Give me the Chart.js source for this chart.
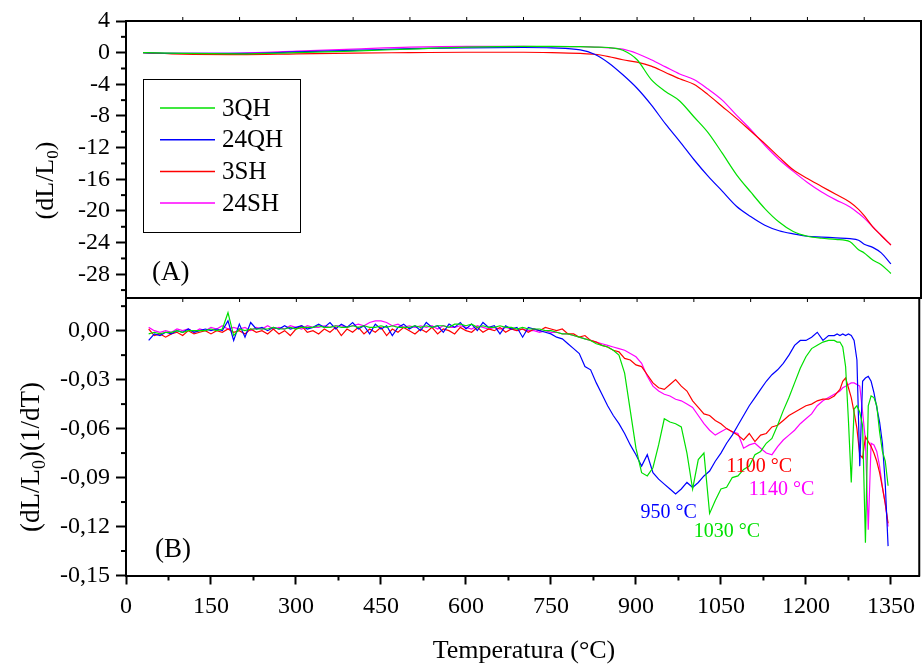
<!DOCTYPE html>
<html>
<head>
<meta charset="utf-8">
<script src="https://cdn.jsdelivr.net/npm/chart.js@4.4.1/dist/chart.umd.min.js"></script>
<style>
  html, body { margin: 0; padding: 0; background: #fff; }
  #wrap { position: relative; width: 923px; height: 667px; }
  #wrap canvas { position: absolute; left: 0; top: 0; }
</style>
</head>
<body>
<div id="wrap">
  <canvas id="chartA" width="923" height="667"></canvas>
  <canvas id="chartB" width="923" height="667"></canvas>
</div>
<script>
Chart.defaults.font.family = "'Liberation Serif', 'Times New Roman', serif";
Chart.defaults.color = '#000';

const seriesNames = ['3QH', '24QH', '3SH', '24SH'];
const seriesColors = ['#00e000', '#0000ff', '#ff0000', '#ff00ff'];

// axis ticks
const ticksX = [0, 150, 300, 450, 600, 750, 900, 1050, 1200, 1350];
const ticksA = [4, 0, -4, -8, -12, -16, -20, -24, -28];
const ticksB = [0, -0.03, -0.06, -0.09, -0.12, -0.15];

// panel (A): dL/L0 vs temperature
const tempA = [30, 100, 200, 300, 400, 500, 600, 700, 750, 800, 825, 850, 875, 900, 925, 950, 975, 1000,
  1025, 1050, 1075, 1100, 1125, 1150, 1175, 1200, 1225, 1250, 1275, 1290, 1300, 1315, 1330, 1347];
const dl3QH = [0, -0.1, -0.15, 0.0, 0.2, 0.45, 0.7, 0.8, 0.8, 0.75, 0.7, 0.65, 0.3, -0.9, -3.4, -4.9, -6.1, -8.1,
  -10.1, -12.7, -15.4, -17.6, -19.7, -21.4, -22.6, -23.2, -23.45, -23.6, -23.9, -24.9, -25.3, -26.2, -26.8, -27.9];
const dl24QH = [0, -0.1, -0.1, 0.1, 0.3, 0.5, 0.6, 0.65, 0.6, 0.35, -0.2, -1.3, -2.8, -4.5, -6.6, -9.0, -11.2, -13.5,
  -15.6, -17.5, -19.4, -20.7, -21.8, -22.5, -22.9, -23.2, -23.3, -23.4, -23.5, -23.7, -24.2, -24.6, -25.3, -26.7];
const dl3SH = [0, -0.2, -0.25, -0.15, -0.05, 0.0, 0.05, 0.05, 0.0, -0.1, -0.2, -0.5, -0.9, -1.2, -1.7, -2.5, -3.3, -4.0,
  -5.3, -6.8, -8.3, -9.9, -11.5, -13.2, -14.8, -15.9, -16.9, -17.9, -18.9, -19.8, -20.6, -22.0, -23.1, -24.3];
const dl24SH = [0, -0.1, -0.05, 0.2, 0.45, 0.7, 0.8, 0.8, 0.75, 0.75, 0.7, 0.6, 0.45, -0.1, -0.9, -1.8, -2.7, -3.4,
  -4.6, -6.0, -7.9, -9.7, -11.7, -13.5, -15.0, -16.4, -17.6, -18.6, -19.5, -20.3, -20.9, -22.0, -23.1, -24.3];

// panel (B): derivative vs temperature
const tempB = [
  40, 50, 60, 70, 80, 90, 100, 110, 120, 130,
  140, 150, 160, 170, 180, 190, 200, 210, 220, 230,
  240, 250, 260, 270, 280, 290, 300, 310, 320, 330,
  340, 350, 360, 370, 380, 390, 400, 410, 420, 430,
  440, 450, 460, 470, 480, 490, 500, 510, 520, 530,
  540, 550, 560, 570, 580, 590, 600, 610, 620, 630,
  640, 650, 660, 670, 680, 690, 700, 710, 720, 730,
  740, 750,
  760, 770, 780, 790, 800, 810, 820, 830, 840, 850,
  860, 870, 880, 890, 900, 910, 920, 930, 940, 950,
  960, 970, 980, 990, 1000, 1010, 1020, 1030, 1040, 1050,
  1060, 1070, 1080, 1090, 1100, 1110, 1120, 1130, 1140, 1150,
  1160, 1170, 1180, 1190, 1200, 1210, 1220, 1230, 1240, 1250,
  1255, 1260, 1265, 1270, 1275, 1280, 1285, 1290, 1295, 1300,
  1305, 1310, 1315, 1320, 1325, 1330, 1335, 1340, 1345];
const dd3QH = [
  -0.002, -0.001, -0.002, -0.001, -0.001, 0.000, -0.001, 0.000, 0.000, 0.000,
  0.000, 0.001, 0.000, 0.001, 0.011, -0.003, 0.001, 0.000, 0.001, 0.001,
  0.001, 0.001, 0.002, 0.001, 0.001, 0.002, 0.001, 0.002, 0.002, 0.002,
  0.003, 0.002, 0.002, 0.003, 0.002, 0.002, 0.003, 0.002, 0.003, 0.002,
  0.002, 0.003, 0.002, 0.003, 0.002, 0.002, 0.002, 0.003, 0.002, 0.003,
  0.002, 0.003, 0.003, 0.002, 0.004, 0.004, 0.003, 0.004, 0.002, 0.003,
  0.002, 0.002, 0.003, 0.002, 0.002, 0.001, 0.002, 0.001, 0.001, 0.001,
  0.000, 0.000,
  -0.001, -0.002, -0.002, -0.003, -0.004, -0.005, -0.006, -0.008, -0.009, -0.010,
  -0.012, -0.015, -0.026, -0.049, -0.072, -0.087, -0.089, -0.084, -0.070, -0.054,
  -0.056, -0.057, -0.059, -0.075, -0.097, -0.079, -0.075, -0.112, -0.104, -0.097,
  -0.096, -0.090, -0.089, -0.085, -0.083, -0.076, -0.074, -0.069, -0.066, -0.058,
  -0.049, -0.041, -0.032, -0.023, -0.016, -0.011, -0.009, -0.007, -0.006, -0.006,
  -0.007, -0.007, -0.010, -0.022, -0.055, -0.093, -0.048, -0.046, -0.050, -0.058,
  -0.130, -0.046, -0.040, -0.041, -0.046, -0.062, -0.074, -0.080, -0.095];
const dd24QH = [
  -0.006, -0.002, -0.003, -0.001, -0.002, 0.000, -0.001, 0.001, -0.001, 0.000,
  0.001, 0.000, 0.001, 0.000, 0.006, -0.006, 0.004, -0.004, 0.005, 0.001,
  0.002, 0.000, 0.002, 0.001, 0.003, 0.001, 0.002, 0.003, 0.001, 0.002,
  0.004, 0.002, 0.005, 0.001, 0.004, 0.002, 0.005, 0.001, 0.003, -0.002,
  0.004, 0.001, 0.003, -0.003, 0.002, 0.004, 0.001, 0.003, 0.000, 0.005,
  0.002, 0.003, -0.001, 0.004, 0.002, 0.005, 0.001, 0.004, 0.000, 0.005,
  0.002, 0.003, -0.002, 0.003, 0.001, 0.002, -0.004, 0.002, 0.001, 0.000,
  -0.001, -0.002,
  -0.004, -0.005, -0.008, -0.011, -0.014, -0.022, -0.024, -0.032, -0.039, -0.046,
  -0.052, -0.057, -0.063, -0.070, -0.076, -0.083, -0.076, -0.087, -0.091, -0.094,
  -0.097, -0.100, -0.097, -0.093, -0.096, -0.093, -0.089, -0.086, -0.080, -0.075,
  -0.069, -0.064, -0.058, -0.052, -0.046, -0.041, -0.036, -0.031, -0.027, -0.024,
  -0.020, -0.015, -0.009, -0.006, -0.006, -0.004, -0.001, -0.006, -0.003, -0.003,
  -0.002, -0.003, -0.002, -0.003, -0.002, -0.003, -0.006, -0.018, -0.083, -0.031,
  -0.029, -0.028, -0.031, -0.038, -0.047, -0.056, -0.069, -0.094, -0.132];
const dd3SH = [
  0.001, -0.003, -0.002, -0.004, -0.002, -0.001, -0.003, 0.000, -0.002, -0.001,
  0.000, -0.002, 0.000, -0.001, 0.001, -0.001, 0.000, -0.002, 0.001, -0.001,
  0.000, -0.002, 0.001, -0.002, 0.000, -0.003, 0.001, 0.003, -0.001, 0.000,
  -0.002, 0.001, -0.001, 0.002, -0.003, 0.001, -0.001, 0.002, -0.002, 0.001,
  -0.001, 0.002, -0.003, 0.001, -0.001, 0.002, 0.000, -0.002, 0.001, -0.001,
  0.002, -0.002, 0.001, 0.000, -0.002, 0.002, 0.000, -0.001, 0.002, -0.001,
  0.001, 0.000, 0.002, -0.001, 0.001, 0.000, 0.001, -0.001, 0.001, 0.000,
  0.002, 0.001,
  0.000, 0.001, -0.002, -0.002, -0.004, -0.003, -0.006, -0.007, -0.009, -0.010,
  -0.012, -0.013, -0.017, -0.018, -0.021, -0.022, -0.027, -0.032, -0.035, -0.036,
  -0.033, -0.030, -0.034, -0.037, -0.043, -0.047, -0.051, -0.052, -0.055, -0.057,
  -0.060, -0.062, -0.064, -0.067, -0.063, -0.068, -0.064, -0.063, -0.059, -0.058,
  -0.055, -0.052, -0.050, -0.048, -0.046, -0.045, -0.043, -0.042, -0.042, -0.040,
  -0.038, -0.036, -0.031, -0.029, -0.035, -0.041, -0.050, -0.060, -0.076, -0.078,
  -0.065, -0.068, -0.071, -0.075, -0.080, -0.087, -0.096, -0.106, -0.118];
const dd24SH = [
  0.002, 0.000, -0.001, 0.000, -0.001, 0.001, 0.000, 0.001, -0.001, 0.001,
  0.000, 0.002, 0.001, 0.003, 0.001, 0.002, 0.001, 0.002, 0.000, 0.002,
  0.001, 0.003, 0.001, 0.002, 0.001, 0.003, 0.002, 0.001, 0.003, 0.002,
  0.002, 0.003, 0.002, 0.003, 0.003, 0.002, 0.003, 0.004, 0.003, 0.005,
  0.006, 0.006, 0.005, 0.003, 0.004, 0.002, 0.003, 0.002, 0.003, 0.002,
  0.003, 0.001, 0.003, 0.002, 0.002, 0.003, 0.002, 0.001, 0.003, 0.002,
  0.001, 0.002, 0.001, 0.002, 0.001, 0.000, 0.001, 0.000, 0.000, -0.001,
  0.000, -0.001,
  -0.001, -0.002, -0.002, -0.003, -0.004, -0.005, -0.006, -0.007, -0.008, -0.009,
  -0.010, -0.011, -0.012, -0.014, -0.016, -0.020, -0.028, -0.034, -0.037, -0.039,
  -0.040, -0.042, -0.043, -0.045, -0.047, -0.052, -0.057, -0.061, -0.064, -0.062,
  -0.060, -0.062, -0.063, -0.072, -0.070, -0.069, -0.072, -0.075, -0.076, -0.071,
  -0.067, -0.064, -0.061, -0.057, -0.054, -0.051, -0.046, -0.043, -0.041, -0.039,
  -0.038, -0.037, -0.035, -0.034, -0.033, -0.032, -0.032, -0.033, -0.034, -0.050,
  -0.067, -0.122, -0.069, -0.070, -0.074, -0.083, -0.096, -0.106, -0.120];

// peak temperature notes in panel (B)
const peakTexts = ['950 °C', '1030 °C', '1100 °C', '1140 °C'];
const peakSeries = [1, 0, 2, 3];

const seriesA = [dl3QH, dl24QH, dl3SH, dl24SH];
const seriesB = [dd3QH, dd24QH, dd3SH, dd24SH];

const SERIF = "'Liberation Serif', 'Times New Roman', serif";
const AXIS_W = 126;

function makeSets(temps, lists, smooth) {
  return lists.map((vals, i) => ({
    label: seriesNames[i],
    data: temps.map((t, k) => ({ x: t, y: vals[k] })),
    borderColor: seriesColors[i],
    borderWidth: 1.2,
    pointRadius: 0,
    tension: smooth ? 0.4 : 0,
    cubicInterpolationMode: smooth ? 'monotone' : 'default'
  }));
}

// rotated axis title with a subscript part
function drawTitle(ctx, cx, cy, parts, size) {
  ctx.save();
  ctx.translate(cx, cy);
  ctx.rotate(-Math.PI / 2);
  ctx.fillStyle = '#000';
  ctx.textBaseline = 'alphabetic';
  let total = 0;
  parts.forEach(p => {
    ctx.font = (p.sub ? Math.round(size * 0.65) : size) + 'px ' + SERIF;
    p.w = ctx.measureText(p.t).width;
    total += p.w;
  });
  let x = -total / 2;
  const base = size * 0.33;
  parts.forEach(p => {
    ctx.font = (p.sub ? Math.round(size * 0.65) : size) + 'px ' + SERIF;
    ctx.fillText(p.t, x, p.sub ? base + size * 0.22 : base);
    x += p.w;
  });
  ctx.restore();
}

function line(ctx, x1, y1, x2, y2, w) {
  ctx.beginPath();
  ctx.lineWidth = w;
  ctx.moveTo(x1, y1);
  ctx.lineTo(x2, y2);
  ctx.stroke();
}

const decorA = {
  id: 'decorA',
  afterDraw(chart) {
    const ctx = chart.ctx;
    const a = chart.chartArea;
    const ys = chart.scales.y, xs = chart.scales.x;
    ctx.save();
    ctx.strokeStyle = '#000';
    // frame
    line(ctx, a.left - 1, a.top, a.right, a.top, 2);
    line(ctx, a.right, a.top - 1, a.right, a.bottom + 1, 2);
    line(ctx, a.left - 1, a.bottom, a.right, a.bottom, 2);
    // minor y ticks
    for (let i = 0; i < ticksA.length; i++) {
      const v = ticksA[i] - 2;
      const y = ys.getPixelForValue(v);
      if (y <= a.bottom) line(ctx, a.left - 5, y, a.left, y, 2);
    }
    // small ticks on top / bottom edges
    for (let t = 100; t < 1400; t += 100) {
      const x = xs.getPixelForValue(t);
      line(ctx, x, a.top - 4, x, a.top, 1);
      line(ctx, x, a.bottom, x, a.bottom + 4, 1);
    }
    // legend
    const lx = a.left + 17, ly = 79;
    ctx.lineWidth = 1;
    ctx.strokeRect(lx + 0.5, ly + 0.5, 157, 153);
    ctx.font = '25px ' + SERIF;
    ctx.textBaseline = 'middle';
    ctx.textAlign = 'left';
    ctx.fillStyle = '#000';
    seriesNames.forEach((n, i) => {
      const y = 108 + i * 31.7;
      ctx.strokeStyle = seriesColors[i];
      line(ctx, lx + 17, y, lx + 72, y, 1.5);
      ctx.fillText(n, lx + 79, y + 1);
    });
    // panel tag
    ctx.font = '27px ' + SERIF;
    ctx.fillText('(A)', a.left + 26, ys.getPixelForValue(-28) - 1);
    // axis title
    drawTitle(ctx, 44, (a.top + a.bottom) / 2 + 21, [{ t: '(dL/L' }, { t: '0', sub: true }, { t: ')' }], 26);
    ctx.restore();
  }
};

const peakAnchors = [[908, -0.1117], [1002, -0.1232], [1060, -0.0833], [1099, -0.0972]];

const decorB = {
  id: 'decorB',
  afterDraw(chart) {
    const ctx = chart.ctx;
    const a = chart.chartArea;
    const ys = chart.scales.y, xs = chart.scales.x;
    ctx.save();
    ctx.strokeStyle = '#000';
    line(ctx, a.right, a.top, a.right, a.bottom + 1, 2);
    // minor ticks
    for (let i = 0; i < ticksB.length; i++) {
      const y = ys.getPixelForValue(ticksB[i] + 0.015);
      line(ctx, a.left - 5, y, a.left, y, 2);
    }
    for (let i = 0; i < ticksX.length; i++) {
      const x = xs.getPixelForValue(ticksX[i] + 75);
      if (x < a.right - 2) line(ctx, x, a.bottom, x, a.bottom + 5, 2);
    }
    // peak notes
    ctx.font = '20px ' + SERIF;
    ctx.textBaseline = 'middle';
    ctx.textAlign = 'left';
    peakTexts.forEach((txt, i) => {
      ctx.fillStyle = seriesColors[peakSeries[i]];
      ctx.fillText(txt, xs.getPixelForValue(peakAnchors[i][0]), ys.getPixelForValue(peakAnchors[i][1]));
    });
    ctx.fillStyle = '#000';
    ctx.font = '27px ' + SERIF;
    ctx.fillText('(B)', a.left + 29, 550);
    // titles
    drawTitle(ctx, 30, 457, [{ t: '(dL/L' }, { t: '0', sub: true }, { t: ')(1/dT)' }], 27);
    ctx.font = '26px ' + SERIF;
    ctx.textAlign = 'center';
    ctx.fillText('Temperatura (°C)', 524, 651);
    ctx.restore();
  }
};

function yAxis(min, max, tickList, fmt) {
  return {
    min: min, max: max,
    afterFit: s => { s.width = AXIS_W; },
    afterBuildTicks: s => { s.ticks = tickList.map(v => ({ value: v })); },
    grid: { drawOnChartArea: false, drawTicks: true, tickLength: 10, tickWidth: 2, tickColor: '#000' },
    border: { display: true, color: '#000', width: 2 },
    ticks: { padding: 6, font: { size: 24, family: SERIF }, color: '#000', callback: fmt }
  };
}

new Chart(document.getElementById('chartA'), {
  type: 'line',
  data: { datasets: makeSets(tempA, seriesA, true) },
  options: {
    responsive: false,
    animation: false,
    events: [],
    layout: { padding: { left: 0, right: 2, top: 21, bottom: 369 } },
    plugins: { legend: { display: false }, tooltip: { enabled: false } },
    scales: {
      x: { type: 'linear', min: 0, max: 1400, display: false },
      y: yAxis(-31, 4, ticksA, v => String(v))
    }
  },
  plugins: [decorA]
});

new Chart(document.getElementById('chartB'), {
  type: 'line',
  data: { datasets: makeSets(tempB, seriesB, false) },
  options: {
    responsive: false,
    animation: false,
    events: [],
    layout: { padding: { left: 0, right: 2, top: 298, bottom: 0 } },
    plugins: { legend: { display: false }, tooltip: { enabled: false } },
    scales: {
      x: {
        type: 'linear', min: 0, max: 1400,
        afterFit: s => { s.height = 91.5; },
        afterBuildTicks: s => { s.ticks = ticksX.map(v => ({ value: v })); },
        grid: { drawOnChartArea: false, drawTicks: true, tickLength: 9, tickWidth: 2, tickColor: '#000' },
        border: { display: true, color: '#000', width: 2 },
        ticks: { padding: 8, maxRotation: 0, font: { size: 24, family: SERIF }, color: '#000', callback: v => String(v) }
      },
      y: yAxis(-0.15, 0.02, ticksB, v => v.toFixed(2).replace('.', ','))
    }
  },
  plugins: [decorB]
});
</script>
</body>
</html>
